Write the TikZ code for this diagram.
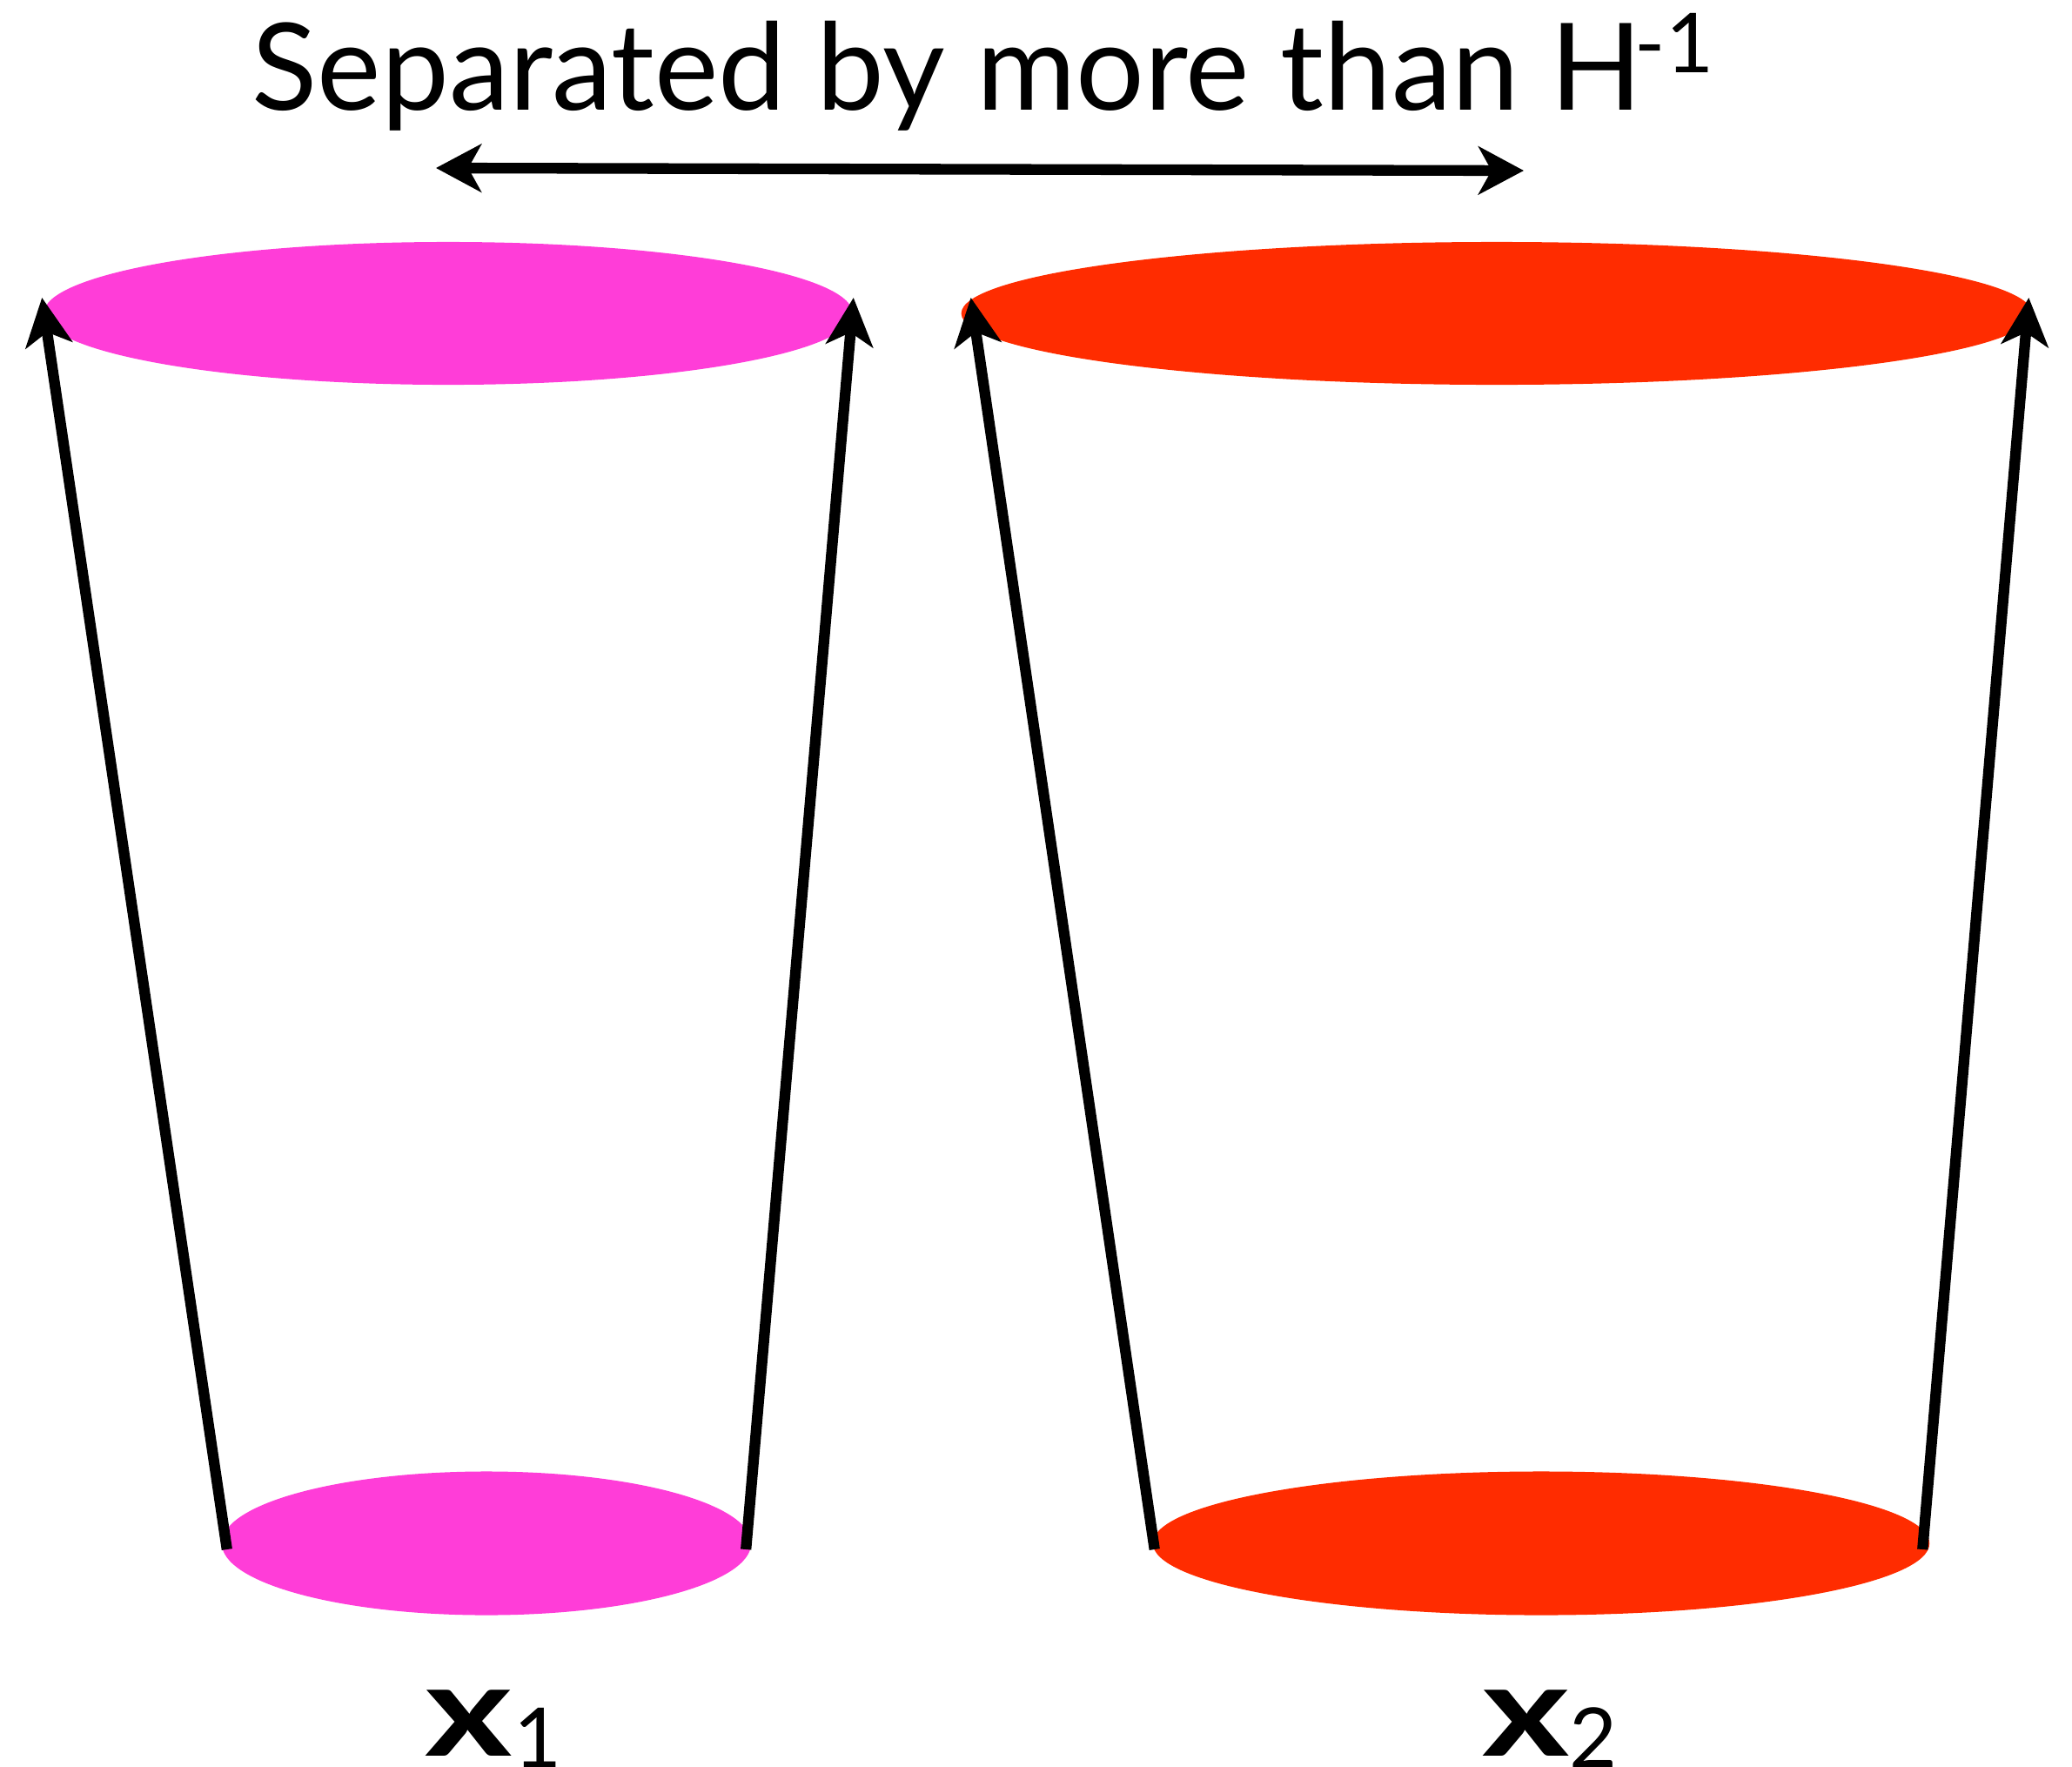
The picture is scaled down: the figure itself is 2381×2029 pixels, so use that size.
\documentclass[tikz,border=0pt]{standalone}
\usepackage{fontspec}
\setmainfont{Lato}
\usetikzlibrary{shapes.geometric,arrows.meta}
\definecolor{magentablob}{RGB}{255,61,216}
\definecolor{redblob}{RGB}{255,44,0}
\begin{document}
\begin{tikzpicture}[x=0.01cm,y=-0.01cm,
  blob/.style={ellipse, inner sep=0pt, outer sep=0pt, draw=none},
  vec/.style={line width=3.5pt, -{Stealth[length=0.55cm,width=0.54cm,inset=0.15cm]}},
  sepvec/.style={line width=3.5pt, {Stealth[length=0.52cm,width=0.55cm,inset=0.15cm]}-{Stealth[length=0.52cm,width=0.55cm,inset=0.15cm]}},
  lbl/.style={anchor=base west, inner sep=0pt, font=\fontsize{42}{48}\selectfont}]
\useasboundingbox (0,0) rectangle (2381,2029);
% ellipses
\node[blob, fill=magentablob, minimum width=9.29cm, minimum height=1.64cm] (t1) at (515,360) {};
\node[blob, fill=redblob, minimum width=12.30cm, minimum height=1.64cm] (t2) at (1720,360) {};
\node[blob, fill=magentablob, minimum width=6.08cm, minimum height=1.65cm] (b1) at (559,1773) {};
\node[blob, fill=redblob, minimum width=8.92cm, minimum height=1.65cm] (b2) at (1771,1773) {};
% title
\node[anchor=base west, inner sep=0pt, font=\fontsize{39.5}{46}\selectfont] (title) at (289,126)
  {Separated by more than H\hspace{-0.08cm}\raisebox{0.42cm}{\fontsize{27}{30}\selectfont -1}};
\coordinate (sepL) at (501,193);
\coordinate (sepR) at (1751,196);
\draw[sepvec] (sepL) -- (sepR);
% vectors
\draw[vec] ([shift={(6,7)}]b1.west) -- ([shift={(-2,-18)}]t1.west);
\draw[vec] ([shift={(-6,7)}]b1.east) -- ([shift={(1,-18)}]t1.east);
\draw[vec] ([shift={(2,7)}]b2.west) -- ([shift={(11,-18)}]t2.west);
\draw[vec] ([shift={(-8,7)}]b2.east) -- ([shift={(-4,-18)}]t2.east);
% labels
\node[lbl] (x1) at (488,2017) {\scalebox{1.3}[1]{\textbf{x}}\hspace{0.02cm}\raisebox{-0.13cm}{\fontsize{27}{30}\selectfont 1}};
\node[lbl] (x2) at (1703,2017) {\scalebox{1.3}[1]{\textbf{x}}\hspace{0.0cm}\raisebox{-0.13cm}{\fontsize{27}{30}\selectfont 2}};
\end{tikzpicture}
\end{document}
